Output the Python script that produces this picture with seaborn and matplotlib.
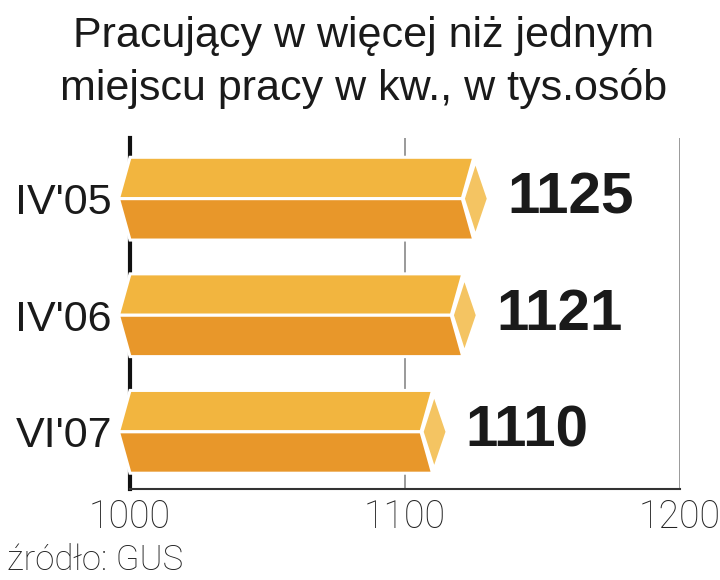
import matplotlib
matplotlib.use('Agg')
import matplotlib.pyplot as plt
from matplotlib.patches import Polygon
import seaborn as sns
import pandas as pd

# chart data
periods = ["IV'05", "IV'06", "VI'07"]
workers = [1125, 1121, 1110]
x_ticks = [1000, 1100, 1200]

title_lines = ['Pracujący w więcej niż jednym', 'miejscu pracy w kw., w tys.osób']
source = 'źródło: GUS'

top_color = '#F2B53F'
bottom_color = '#E8972A'
tip_color = '#F4C462'


def main():
    sns.set_theme(style='white')
    plt.rcParams['font.family'] = ['Liberation Sans', 'DejaVu Sans']

    df = pd.DataFrame({'period': periods, 'workers': workers})

    fig = plt.figure(figsize=(7.2, 5.8), dpi=100)
    ax = fig.add_axes([0.1806, 0.157, 0.7639, 0.605])

    sns.barplot(data=df, x='workers', y='period', orient='h', color=bottom_color,
                width=0.71, ax=ax)
    ax.set_xlim(1000, 1200)
    ax.set_ylim(2.49, -0.52)

    # turn each flat bar into a prism-like shape
    slant = 4.2   # data units of the slanted ends
    for patch in ax.patches:
        x0 = 1000
        xv = patch.get_x() + patch.get_width()
        y0 = patch.get_y()
        h = patch.get_height()
        ytop, ybot, ymid = y0, y0 + h, y0 + h / 2
        patch.set_visible(False)
        top = Polygon([(x0, ytop), (xv, ytop), (xv - slant, ymid), (x0 - slant, ymid)],
                      closed=True, facecolor=top_color, edgecolor='white', lw=2.2,
                      clip_on=False, zorder=3)
        bot = Polygon([(x0 - slant, ymid), (xv - slant, ymid), (xv, ybot), (x0, ybot)],
                      closed=True, facecolor=bottom_color, edgecolor='white', lw=2.2,
                      clip_on=False, zorder=3)
        tip = Polygon([(xv + 0.6, ytop + 0.03), (xv + 5.3, ymid),
                       (xv + 0.6, ybot - 0.03), (xv - slant + 0.4, ymid)],
                      closed=True, facecolor=tip_color, edgecolor='white', lw=2.2,
                      clip_on=False, zorder=3)
        for p in (top, bot, tip):
            ax.add_patch(p)
        ax.annotate(f'{int(round(xv))}', xy=(xv, ymid), xytext=(24, 0),
                    textcoords='offset points', ha='left', va='center',
                    fontsize=42, fontweight='bold', color='#1a1a1a', zorder=4)

    # grid lines
    ax.axvline(1100, color='#9a9a9a', lw=1.4, zorder=1)
    ax.axvline(1200, color='#9a9a9a', lw=1.4, zorder=1)

    sns.despine(ax=ax, top=True, right=True)
    ax.spines['left'].set_color('#111111')
    ax.spines['left'].set_linewidth(3)
    ax.spines['left'].set_zorder(1)
    ax.spines['bottom'].set_color('#333333')
    ax.spines['bottom'].set_linewidth(1.5)

    ax.set_xticks(x_ticks)
    ax.set_xticklabels([str(t) for t in x_ticks], fontsize=27, color='#222222',
                       family=['Roboto', 'Liberation Sans'], fontweight='light')
    ax.tick_params(axis='x', length=0, pad=7)
    ax.tick_params(axis='y', length=0, pad=13, labelsize=31, labelcolor='#1a1a1a')
    ax.set_xlabel('')
    ax.set_ylabel('')

    fig.text(0.505, 1 - 47 / 580, title_lines[0], ha='center', va='baseline',
             fontsize=31, color='#1a1a1a')
    fig.text(0.505, 1 - 100 / 580, title_lines[1], ha='center', va='baseline',
             fontsize=31, color='#1a1a1a')
    fig.text(0.01, 10 / 580, source, ha='left', va='baseline', fontsize=25,
             color='#222222', family=['Roboto', 'Liberation Sans'], fontweight='light')

    fig.savefig('out.png', dpi=100)


if __name__ == '__main__':
    main()
